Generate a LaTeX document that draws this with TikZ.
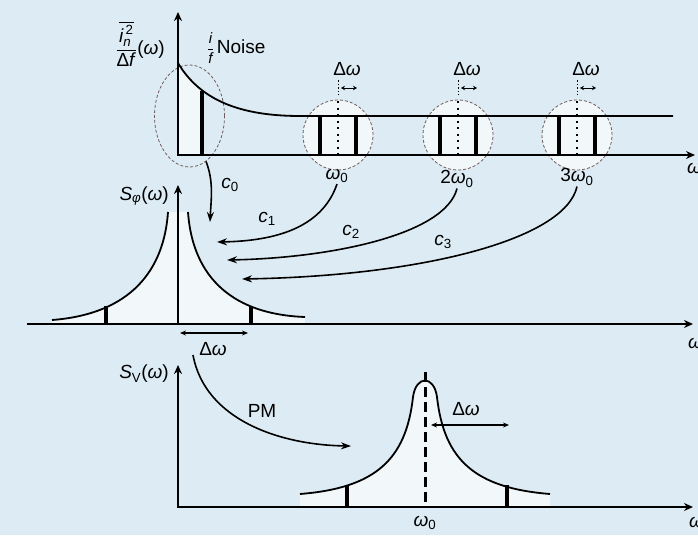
\documentclass[tikz,border=0pt]{standalone}
\usepackage{amsmath}
\usepackage{fontspec}
\setmainfont{Liberation Sans}
\usetikzlibrary{arrows.meta,shapes.geometric}
\definecolor{bg}{RGB}{221,236,244}
\definecolor{lite}{RGB}{242,247,249}
\definecolor{ring}{RGB}{110,92,92}
\newcommand\Wg{\textit{ω}}
\newcommand\Dw{Δ\textit{ω}}
\begin{document}
\begin{tikzpicture}[x=1pt,y=-1pt,
  font=\fontsize{19}{22}\selectfont,
  axisline/.style={line width=2.4pt},
  curve/.style={line width=1.8pt},
  barline/.style={line width=4pt},
  conn/.style={line width=1.6pt,-{Stealth[length=10pt,width=7pt]}},
  ringline/.style={draw=ring,dash pattern=on 3pt off 2pt,line width=0.8pt},
  dotline/.style={line width=1.6pt,dash pattern=on 2pt off 4.5pt},
  small arrow/.style={line width=1pt,{Stealth[length=4pt,width=4.5pt]}-{Stealth[length=4pt,width=4.5pt]}},
  lbl/.style={inner sep=1pt}]
\fill[bg] (0,0) rectangle (698,535);
\useasboundingbox (0,0) rectangle (698,535);

% ---------------- top plot ----------------
\node[ringline,fill=bg,ellipse,minimum width=70pt,minimum height=102pt,inner sep=0pt] (el) at (189.5,116) {};
\node[ringline,fill=lite,circle,minimum size=70pt,inner sep=0pt] (r1) at (338,135) {};
\node[ringline,fill=lite,circle,minimum size=70pt,inner sep=0pt] (r2) at (458,135) {};
\node[ringline,fill=lite,circle,minimum size=70pt,inner sep=0pt] (r3) at (577,135) {};
\begin{scope}
  \clip (178,63) .. controls (200,100) and (240,116) .. (300,116) -- (300,155) -- (178,155) -- cycle;
  \fill[lite] (178,40) rectangle (202,155);
\end{scope}
\draw[curve] (178,63) .. controls (200,100) and (240,116) .. (300,116) -- (673,116);
\draw[axisline,{Stealth[length=9pt,width=8pt]}-{Stealth[length=9pt,width=8pt]}] (178,12) -- (178,155) -- (695,155);
\draw[barline] (202,91) -- (202,155);
\foreach \c in {338,458,577}{
  \draw[barline] (\c-18,116) -- (\c-18,155);
  \draw[barline] (\c+18,116) -- (\c+18,155);
  \draw[dotline] (\c,101) -- (\c,155);
  \draw[line width=1pt,dash pattern=on 1.5pt off 2pt] (\c,80) -- (\c,95);
  \draw[small arrow] (\c+3,88) -- (\c+19,88);
}
\node[lbl] (dw1) at (347,69) {\Dw};
\node[lbl] (dw2) at (467,69) {\Dw};
\node[lbl] (dw3) at (586,69) {\Dw};
\node[lbl] (w0) at (337,176) {\Wg\textsubscript{0}};
\node[lbl] (w20) at (457,179) {2\Wg\textsubscript{0}};
\node[lbl] (w30) at (577,177) {3\Wg\textsubscript{0}};
\node[lbl,anchor=east] (ylab1) at (166,44) {$\dfrac{\overline{\textit{i}_{\textit{n}}^{\,\text{2}}}}{\text{Δ\textit{f}}}$(\Wg)};
\node[lbl,anchor=west] (noise) at (206,48) {{\fontsize{15}{17}\selectfont$\dfrac{\textit{i}}{\textit{f}}$}\,Noise};
\node[lbl,anchor=west] (wa1) at (686,168) {\Wg};

% ---------------- middle plot ----------------
\begin{scope}
  \clip (188,212) .. controls (192,270) and (225,314) .. (305,317) -- (305,324) -- (178,324) -- (178,212) -- cycle;
  \fill[lite] (178,200) rectangle (305,324);
\end{scope}
\begin{scope}
  \clip (168,212) .. controls (164,270) and (131,314) .. (52,320) -- (52,324) -- (178,324) -- (178,212) -- cycle;
  \fill[lite] (40,200) rectangle (178,324);
\end{scope}
\draw[curve] (188,212) .. controls (192,270) and (225,314) .. (305,317);
\draw[curve] (168,212) .. controls (164,270) and (131,314) .. (52,320);
\draw[axisline,-{Stealth[length=9pt,width=8pt]}] (27,324) -- (693,324);
\draw[axisline,-{Stealth[length=9pt,width=8pt]}] (178,324) -- (178,185);
\draw[barline] (106,306) -- (106,324);
\draw[barline] (251,306) -- (251,324);
\draw[line width=1.4pt,{Stealth[length=6pt,width=5pt]}-{Stealth[length=6pt,width=5pt]}] (180,333) -- (248,333);
\node[lbl] (dwm) at (213,349) {\Dw};
\node[lbl,anchor=east] (ylab2) at (170,196) {\textit{S}\textsubscript{\textit{φ}}(\Wg)};
\node[lbl,anchor=west] (wa2) at (687,343) {\Wg};

% ---------------- bottom plot ----------------
\begin{scope}
  \clip (300,494) .. controls (375,488) and (406,460) .. (413,397) .. controls (416,375) and (434,375) .. (437,397) .. controls (444,460) and (475,488) .. (550,494) -- (550,507) -- (300,507) -- cycle;
  \fill[lite] (290,370) rectangle (560,507);
\end{scope}
\draw[curve] (300,494) .. controls (375,488) and (406,460) .. (413,397) .. controls (416,375) and (434,375) .. (437,397) .. controls (444,460) and (475,488) .. (550,494);
\draw[axisline,{Stealth[length=9pt,width=8pt]}-{Stealth[length=9pt,width=8pt]}] (178,365) -- (178,507) -- (693,507);
\draw[line width=3pt,dash pattern=on 10pt off 5pt] (425,372) -- (425,507);
\draw[barline] (347,485) -- (347,507);
\draw[barline] (507,485) -- (507,507);
\draw[line width=1.2pt,{Stealth[length=6pt,width=5pt]}-{Stealth[length=6pt,width=5pt]}] (431,425) -- (509,425);
\node[lbl] (dwb) at (466,409) {\Dw};
\node[lbl] (w0b) at (425,523) {\Wg\textsubscript{0}};
\node[lbl,anchor=east] (ylab3) at (170,374) {\textit{S}\textsubscript{V}(\Wg)};
\node[lbl,anchor=west] (wa3) at (688,522) {\Wg};

% ---------------- connectors ----------------
\coordinate (c0end) at (210,222);
\coordinate (c1end) at (217,242);
\coordinate (c2end) at (227,260);
\coordinate (c3end) at (242,279);
\coordinate (pmstart) at (193,355);
\coordinate (pmend) at (351,446);
\draw[conn] (el.290) .. controls (214,182) and (211,200) .. (c0end);
\draw[conn] (w0.south) .. controls (322,228) and (275,241) .. (c1end);
\draw[conn] (w20.south) .. controls (445,235) and (330,258) .. (c2end);
\draw[conn] (w30.south) .. controls (565,240) and (420,276) .. (c3end);
\draw[conn] (pmstart) .. controls (205,420) and (280,445) .. (pmend);
\node[lbl] (c0) at (230,185) {\textit{c}\textsubscript{0}};
\node[lbl] (c1) at (267,219) {\textit{c}\textsubscript{1}};
\node[lbl] (c2) at (351,232) {\textit{c}\textsubscript{2}};
\node[lbl] (c3) at (443,242) {\textit{c}\textsubscript{3}};
\node[lbl] (pm) at (262,411) {PM};
\end{tikzpicture}
\end{document}
